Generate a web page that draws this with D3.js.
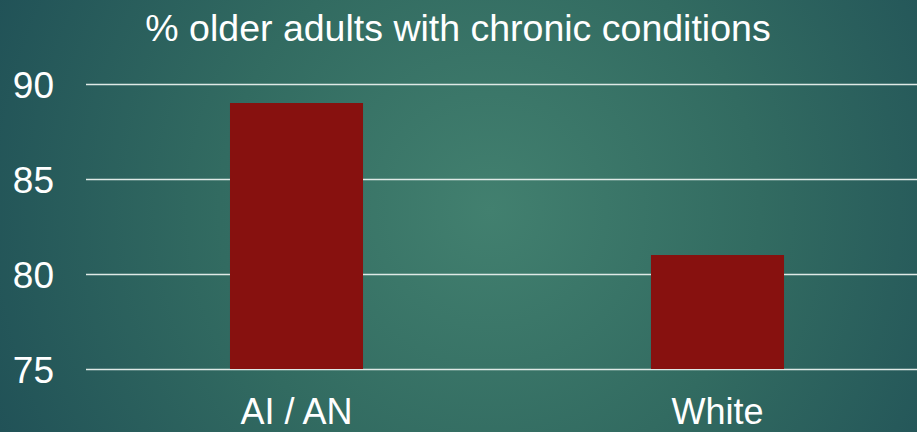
<!DOCTYPE html>
<html>
<head>
<meta charset="utf-8">
<script src="https://cdn.jsdelivr.net/npm/d3@7"></script>
<style>
  html, body { margin: 0; padding: 0; background: #1f5257; }
  svg { display: block; }
</style>
</head>
<body>
<script>
// Share of older adults living with chronic conditions, by group
const categories = ["AI / AN", "White"];
const values = [89, 81];
const yTicks = [75, 80, 85, 90];
const title = "% older adults with chronic conditions";

const width = 917, height = 432;
const svg = d3.select("body").append("svg")
  .attr("width", width).attr("height", height);

// teal radial backdrop
const defs = svg.append("defs");
const grad = defs.append("radialGradient")
  .attr("id", "bg")
  .attr("gradientUnits", "userSpaceOnUse")
  .attr("cx", 490).attr("cy", 210).attr("r", 600);
grad.append("stop").attr("offset", "0%").attr("stop-color", "#42806f");
grad.append("stop").attr("offset", "45%").attr("stop-color", "#326b61");
grad.append("stop").attr("offset", "100%").attr("stop-color", "#1d4c55");
svg.append("rect").attr("width", width).attr("height", height).attr("fill", "url(#bg)");

const y = d3.scaleLinear().domain([75, 90]).range([369, 84]);
const x = d3.scaleBand().domain(categories).range([86, 928]).paddingInner(0.684).paddingOuter(0.342);

const font = "'Liberation Sans', Arial, sans-serif";

// gridlines
const yAxis = d3.axisLeft(y).tickValues(yTicks).tickSize(-(width - 86)).tickFormat(d3.format("d"));
const gy = svg.append("g").attr("transform", "translate(86,0)").call(yAxis);
gy.select(".domain").remove();
gy.selectAll(".tick line").attr("stroke", "#dfe9e6").attr("stroke-width", 1.3);
gy.selectAll(".tick text")
  .attr("x", -32).attr("dy", "0.36em")
  .attr("fill", "#ffffff")
  .style("font-family", font).style("font-size", "37px").attr("text-anchor", "end");

// bars
svg.append("g").selectAll("rect").data(values).join("rect")
  .attr("x", (d, i) => x(categories[i]))
  .attr("width", x.bandwidth())
  .attr("y", d => y(d))
  .attr("height", d => y(75) - y(d))
  .attr("fill", "#87110f");

// category labels
const xAxis = d3.axisBottom(x).tickSize(0);
const gx = svg.append("g").attr("transform", "translate(0,369)").call(xAxis);
gx.select(".domain").remove();
gx.selectAll(".tick text")
  .attr("y", 0).attr("dy", 0)
  .attr("transform", "translate(0,55)")
  .attr("fill", "#ffffff")
  .style("font-family", font).style("font-size", "36px");

// title
svg.append("text")
  .attr("x", 458).attr("y", 41)
  .attr("text-anchor", "middle")
  .attr("fill", "#ffffff")
  .style("font-family", font).style("font-size", "37.5px")
  .text(title);
</script>
</body>
</html>
